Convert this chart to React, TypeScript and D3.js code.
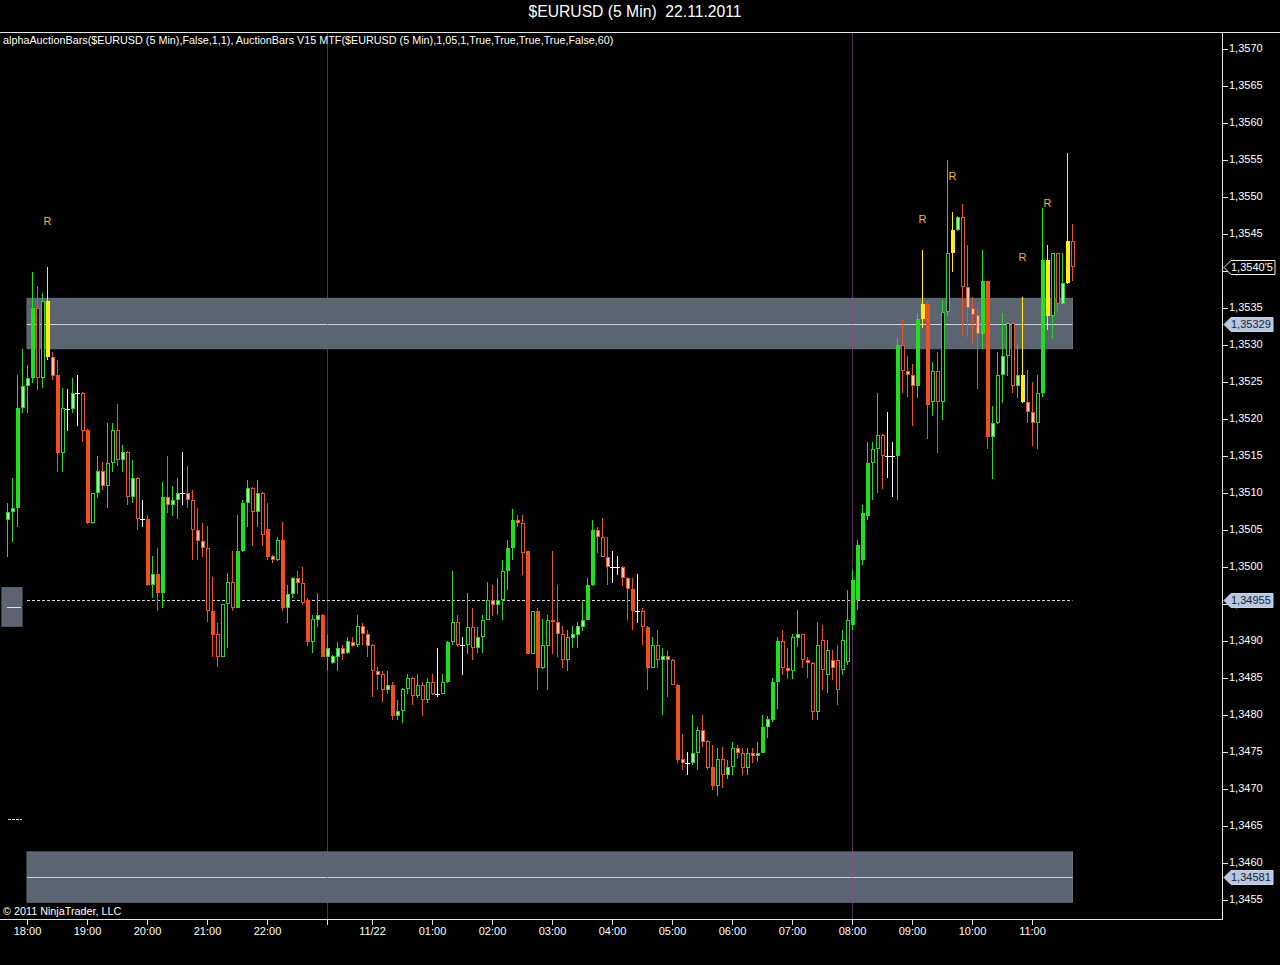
import React from 'react';
import * as d3 from 'd3';

// ---- data (EURUSD 5 min bars, 21.11 17:40 .. 22.11 11:25) ----
const opens = [
1.35064,1.35075,1.3508,1.35215,1.35244,1.35255,1.3535,1.35255,1.35359,1.35284,
1.35259,1.35154,1.35214,1.35214,1.35235,1.35235,1.35185,1.35059,1.351,1.3513,
1.35109,1.35141,1.35185,1.35144,1.35156,1.35094,1.3512,1.35065,1.35065,1.34976,
1.34991,1.34965,1.35095,1.35084,1.3509,1.351,1.351,1.35091,1.3505,1.35035,
1.35026,1.3494,1.34909,1.34879,1.3495,1.3498,1.34945,1.35021,1.35086,1.35107,
1.35075,1.351,1.35051,1.35015,1.35009,1.35036,1.34944,1.34964,1.34985,1.34979,
1.34955,1.34899,1.34928,1.34935,1.34879,1.3487,1.34879,1.3489,1.34884,1.34899,
1.34895,1.3492,1.34909,1.34895,1.34859,1.34855,1.34834,1.34841,1.34799,1.34806,
1.34835,1.3485,1.34825,1.34841,1.3482,1.34845,1.34829,1.34829,1.34844,1.34899,
1.34925,1.34895,1.34895,1.34919,1.3489,1.34906,1.34929,1.34955,1.34949,1.34955,
1.34994,1.35025,1.35064,1.35059,1.35021,1.34883,1.3494,1.34863,1.34893,1.34929,
1.34925,1.34909,1.34875,1.34904,1.34908,1.34919,1.34929,1.34976,1.3505,1.3504,
1.35014,1.35,1.35,1.35,1.34985,1.3497,1.3494,1.34941,1.34919,1.34864,
1.34895,1.34875,1.3488,1.34875,1.34841,1.3474,1.34735,1.34735,1.34749,1.3478,
1.34765,1.3473,1.34704,1.3474,1.34719,1.3473,1.34755,1.34749,1.34728,1.34749,
1.34744,1.34749,1.34784,1.34793,1.34844,1.349,1.34864,1.34859,1.34904,1.34909,
1.34875,1.3487,1.34804,1.34901,1.34854,1.34874,1.34874,1.34861,1.34872,1.34922,
1.34955,1.35009,1.35069,1.3514,1.35159,1.35179,1.3515,1.3515,1.3515,1.353,
1.35265,1.35259,1.35244,1.35335,1.35355,1.35223,1.35265,1.35223,1.35344,1.35424,
1.35455,1.35473,1.35379,1.3535,1.35341,1.35315,1.35386,1.35175,1.35194,1.35259,
1.35285,1.3533,1.35244,1.35259,1.35223,1.35209,1.35194,1.35235,1.35415,1.35339,
1.35424,1.35356,1.35384,1.3544];

const highs = [
1.35086,1.3512,1.35259,1.35295,1.35273,1.35399,1.3538,1.3537,1.35406,1.35291,
1.3528,1.35242,1.35241,1.35256,1.35259,1.35236,1.35186,1.351,1.3515,1.35142,
1.35195,1.35195,1.3522,1.35165,1.35157,1.35145,1.35121,1.35091,1.3507,1.35015,
1.35026,1.35115,1.3515,1.35109,1.3512,1.35156,1.35136,1.35104,1.3508,1.35059,
1.35055,1.34987,1.34924,1.3495,1.34992,1.35021,1.3507,1.35091,1.35118,1.35108,
1.35118,1.35101,1.35086,1.35016,1.35041,1.35061,1.34976,1.34986,1.34994,1.35,
1.34958,1.34935,1.34965,1.34936,1.34908,1.34881,1.34899,1.34895,1.34906,1.34906,
1.34935,1.34924,1.34915,1.34896,1.34865,1.34859,1.34859,1.34845,1.3482,1.34836,
1.34855,1.34851,1.34855,1.34845,1.3485,1.34855,1.34891,1.34855,1.349,1.34995,
1.34935,1.34906,1.34965,1.34945,1.34919,1.34935,1.3498,1.34976,1.34985,1.35009,
1.35036,1.35079,1.3507,1.3507,1.35022,1.34941,1.34945,1.3493,1.34935,1.35021,
1.34976,1.3492,1.34915,1.3492,1.34926,1.34953,1.34985,1.35064,1.35054,1.35066,
1.35041,1.35021,1.35015,1.35001,1.34986,1.34985,1.34991,1.34944,1.3492,1.34906,
1.34915,1.3489,1.34886,1.34876,1.34842,1.34775,1.3475,1.348,1.34784,1.348,
1.34766,1.34759,1.34755,1.34757,1.34739,1.34764,1.34759,1.34755,1.34755,1.34755,
1.34764,1.348,1.34799,1.3485,1.34906,1.34915,1.3489,1.3491,1.34942,1.3491,
1.34879,1.34871,1.34926,1.34922,1.34901,1.34888,1.34895,1.34915,1.34969,1.34996,
1.35036,1.35084,1.35169,1.35169,1.35235,1.3518,1.3521,1.35169,1.35309,1.35334,
1.35285,1.35275,1.35343,1.35429,1.35361,1.35277,1.35291,1.35361,1.3555,1.3548,
1.35474,1.35491,1.35435,1.35365,1.35352,1.35429,1.35387,1.35217,1.35291,1.35343,
1.35331,1.35331,1.353,1.35365,1.35266,1.3525,1.35259,1.35485,1.35435,1.35425,
1.35425,1.35424,1.35559,1.35464];

const lows = [
1.35014,1.35034,1.35054,1.35208,1.35208,1.35249,1.35239,1.35242,1.3528,1.35253,
1.35129,1.35129,1.35184,1.35208,1.3519,1.35169,1.35058,1.35058,1.35093,1.35104,
1.3508,1.35129,1.35136,1.35129,1.35084,1.35086,1.3505,1.35054,1.34975,1.34958,
1.3494,1.34945,1.35073,1.35069,1.35065,1.35084,1.3508,1.35009,1.35009,1.35014,
1.34926,1.34879,1.34865,1.34878,1.34891,1.3494,1.34944,1.3502,1.35054,1.35028,
1.35054,1.35028,1.35009,1.35005,1.35008,1.3494,1.34925,1.34958,1.34964,1.34949,
1.34893,1.34884,1.34919,1.34878,1.34861,1.34869,1.34859,1.34874,1.34883,1.34892,
1.34892,1.34895,1.34879,1.34825,1.34834,1.34818,1.34829,1.34793,1.34793,1.34789,
1.34829,1.34814,1.34823,1.34798,1.34816,1.34827,1.34825,1.34828,1.34843,1.34895,
1.34892,1.34854,1.34883,1.34874,1.34884,1.34884,1.34928,1.34934,1.34935,1.34928,
1.34969,1.35009,1.35054,1.34989,1.34882,1.34882,1.34834,1.34862,1.34834,1.34883,
1.34879,1.34863,1.34859,1.3489,1.3489,1.34913,1.34928,1.34975,1.35019,1.35013,
1.34976,1.34979,1.34989,1.34974,1.34929,1.34915,1.34925,1.34895,1.34834,1.34863,
1.34863,1.348,1.34825,1.3484,1.34735,1.34726,1.34719,1.34732,1.34726,1.34757,
1.34726,1.34699,1.3469,1.34701,1.34714,1.34719,1.3474,1.34719,1.34719,1.34735,
1.34737,1.34748,1.34769,1.3479,1.34808,1.34854,1.34848,1.34848,1.34892,1.34864,
1.3485,1.34793,1.34793,1.34834,1.3483,1.34847,1.34814,1.34854,1.34868,1.34915,
1.34942,1.35003,1.35064,1.3509,1.351,1.35105,1.3512,1.35094,1.35091,1.35235,
1.3523,1.3519,1.35228,1.35323,1.35173,1.35204,1.35154,1.35199,1.35339,1.35399,
1.35454,1.35314,1.35311,1.35302,1.3524,1.35294,1.35159,1.35119,1.35193,1.35221,
1.35258,1.35235,1.35228,1.35222,1.35194,1.35164,1.35159,1.3523,1.3532,1.35308,
1.35345,1.35355,1.35383,1.35386];

const closes = [
1.35075,1.3508,1.35215,1.35245,1.35255,1.3535,1.35255,1.35359,1.35284,1.35258,
1.35154,1.35215,1.35214,1.35235,1.35235,1.35184,1.35059,1.351,1.3513,1.35109,
1.35141,1.35185,1.35144,1.35156,1.35094,1.3512,1.35065,1.35065,1.34976,1.34991,
1.34965,1.35095,1.35084,1.35091,1.351,1.351,1.35091,1.3505,1.35035,1.35026,
1.3494,1.34908,1.34879,1.3495,1.3498,1.34945,1.35021,1.35086,1.35107,1.35075,
1.351,1.35043,1.35014,1.35009,1.35036,1.34944,1.34964,1.34985,1.34979,1.34951,
1.34899,1.3493,1.34935,1.34879,1.3489,1.3488,1.3489,1.34883,1.349,1.34893,
1.3492,1.34909,1.34893,1.34859,1.34854,1.34834,1.34841,1.34798,1.34806,1.34835,
1.3485,1.34825,1.34841,1.3482,1.34845,1.34829,1.34829,1.34844,1.34899,1.34925,
1.34895,1.34895,1.34919,1.3489,1.34906,1.34929,1.34955,1.34949,1.34955,1.34995,
1.35025,1.35064,1.35059,1.35019,1.34883,1.3494,1.34863,1.34895,1.34929,1.34925,
1.34909,1.34875,1.34906,1.34909,1.3492,1.34929,1.34976,1.3505,1.3504,1.35014,
1.35,1.35,1.35,1.34985,1.3497,1.3494,1.3494,1.34919,1.34864,1.34895,
1.34875,1.3488,1.34875,1.34841,1.34739,1.34735,1.34735,1.34749,1.3478,1.34764,
1.34728,1.34704,1.3474,1.34719,1.3473,1.34755,1.34749,1.34728,1.34749,1.34744,
1.34749,1.34784,1.34794,1.34845,1.349,1.34864,1.34859,1.34906,1.34909,1.34875,
1.3487,1.34804,1.34895,1.34861,1.34888,1.34864,1.34834,1.34901,1.34928,1.34982,
1.3503,1.35073,1.35141,1.35159,1.35179,1.3515,1.3515,1.3515,1.353,1.35265,
1.35259,1.35244,1.35335,1.35355,1.35219,1.35265,1.35223,1.35344,1.35424,1.35455,
1.35473,1.35379,1.3535,1.35341,1.35315,1.35386,1.35175,1.35194,1.35259,1.35285,
1.3533,1.35244,1.35259,1.35223,1.35209,1.35194,1.35235,1.35415,1.35339,1.35424,
1.35356,1.35384,1.3544,1.35405];

// bar paint type: G solid up, g hollow up, l pale up, R solid down, r hollow down, p pale down, Y signal, W doji
const barTypes =
  "llGllGrgYp" + "RgWlWrRglp" + "ggrlrlrWRl" + "RGpllWprpp" + "rRrggrGGlr" +
  "lrRpgRllpr" + "RglRlllplp" + "gpprprlRlg" + "grgrgrWgGg" + "rWgrlggplg" +
  "GGprRgRggp" + "prglllGGpr" + "pWWppRWrRg" + "rlprRpWlgp" + "rRgrlgprgp" +
  "lGlGGrpglr" + "prgrgprggG" + "GGGggrWWGr" + "ppGYRgrggY" + "lrpppGRlgl" +
  "grlYppgGYg" + "rlYr";

const priceTickLabels = [
  '1,3455','1,3460','1,3465','1,3470','1,3475','1,3480','1,3485','1,3490','1,3495','1,3500',
  '1,3505','1,3510','1,3515','1,3520','1,3525','1,3530','1,3535','1,3540','1,3545','1,3550',
  '1,3555','1,3560','1,3565','1,3570'];
const timeTickBars = [4,16,28,40,52,64,73,85,97,109,121,133,145,157,169,181,193,205];
const timeTickLabels = ['18:00','19:00','20:00','21:00','22:00','','11/22','01:00','02:00','03:00',
  '04:00','05:00','06:00','07:00','08:00','09:00','10:00','11:00'];
const sessionBreakBars = [64, 169];
const signalBars = [8, 183, 189, 203, 208];
const signalPrices = [1.35466, 1.35469, 1.35527, 1.35418, 1.3549];
const zoneCenters = [1.35329, 1.34581];
const zoneHalfWidth = 0.00034;
const pivotPrice = 1.34955;
const lastPrice = 1.35405;
const markerPrices = [1.35329, 1.34955, 1.34581];
const markerLabels = ['1,35329', '1,34955', '1,34581'];
const sideBox = [1.34972, 1.3492, 1.34946];
const sideDash = 1.34659;

const W = 1280, H = 965;
const AX = 1222, BOT = 919, TOP = 32;
const FONT = '"Liberation Sans", Arial, sans-serif';

const x = d3.scaleLinear().domain([0, 213]).range([7.5, 1072.5]);
const y = d3.scaleLinear().domain([1.3455, 1.357]).range([900, 49]);
const priceTicks = priceTickLabels.map((s) => +s.replace(',', '.'));

const UP = '#2fd02f', UPS = '#1fe01f', UPL = '#a4f2a4';
const DN = '#e2582c', DNS = '#f0501c', DNL = '#f8c8b6';
const YEL = '#ffec14';

function Candle({ i }: { i: number }) {
  const t = barTypes[i];
  const o = opens[i], c = closes[i];
  const xi = x(i);
  const yH = y(highs[i]), yL = y(lows[i]);
  const yT = Math.round(y(Math.max(o, c))), yB = Math.round(y(Math.min(o, c)));
  const h = Math.max(1, yB - yT);
  if (t === 'W') {
    return (
      <g>
        <line x1={xi} x2={xi} y1={yH} y2={yL} stroke="#ffffff" />
        <line x1={xi - 2.5} x2={xi + 2.5} y1={Math.round(y(c)) + 0.5} y2={Math.round(y(c)) + 0.5} stroke="#ffffff" />
      </g>
    );
  }
  let wick = UP, fill = UPS, stroke = 'none', solid = true;
  if (t === 'G') { wick = UPS; fill = UPS; }
  else if (t === 'g') { wick = UP; fill = '#000'; stroke = UP; solid = false; }
  else if (t === 'l') { wick = UP; fill = UPL; stroke = UP; solid = false; }
  else if (t === 'R') { wick = DNS; fill = DNS; }
  else if (t === 'r') { wick = DN; fill = '#000'; stroke = DN; solid = false; }
  else if (t === 'p') { wick = DN; fill = DNL; stroke = DN; solid = false; }
  else if (t === 'Y') { wick = YEL; fill = YEL; }
  return (
    <g>
      <line x1={xi} x2={xi} y1={yH} y2={yL} stroke={wick} />
      {solid ? (
        <rect x={xi - 1.5} y={yT} width={4} height={h} fill={fill} />
      ) : (
        <rect x={xi - 1} y={yT + 0.5} width={3} height={Math.max(1, h - 1)} fill={fill} stroke={stroke} />
      )}
    </g>
  );
}

export default function App() {
  const x0 = x(4) - 0.5, x1 = x(213);
  return (
    <svg width={W} height={H} style={{ position: 'absolute', left: 0, top: 0, background: '#000' }}
      fontFamily={FONT}>
      <rect x={0} y={0} width={W} height={H} fill="#000" />
      <text x={635} y={13} fill="#fff" fontSize={15.7} textAnchor="middle" dominantBaseline="middle"
        style={{ whiteSpace: 'pre' }}>{'$EURUSD (5 Min)  22.11.2011'}</text>
      <line x1={0} x2={W} y1={TOP + 0.5} y2={TOP + 0.5} stroke="#e8e8e8" />

      {/* zones */}
      {zoneCenters.map((zc, k) => (
        <g key={'z' + k}>
          <rect x={x0} y={y(zc + zoneHalfWidth)} width={x1 - x0} height={y(zc - zoneHalfWidth) - y(zc + zoneHalfWidth)}
            fill="#5b6572" stroke="#66707e" />
          <line x1={x0} x2={x1} y1={Math.round(y(zc)) + 0.5} y2={Math.round(y(zc)) + 0.5} stroke="#c9d2e2" />
        </g>
      ))}

      {/* session breaks */}
      {sessionBreakBars.map((b) => (
        <line key={'s' + b} x1={x(b)} x2={x(b)} y1={TOP + 1} y2={BOT} stroke="#8a4f96" strokeOpacity={0.6} />
      ))}

      {/* pivot dashed line */}
      <line x1={x0} x2={x1} y1={Math.round(y(pivotPrice)) + 0.5} y2={Math.round(y(pivotPrice)) + 0.5}
        stroke="#d8d8d8" strokeDasharray="3,2" />

      {/* side box */}
      <rect x={2} y={y(sideBox[0])} width={20} height={y(sideBox[1]) - y(sideBox[0])} fill="#5b6572" stroke="#66707e" />
      <line x1={7} x2={21} y1={Math.round(y(sideBox[2])) + 0.5} y2={Math.round(y(sideBox[2])) + 0.5} stroke="#e0e6f0" />
      <line x1={8} x2={22} y1={Math.round(y(sideDash)) + 0.5} y2={Math.round(y(sideDash)) + 0.5} stroke="#d8d8d8" strokeDasharray="3,1" />

      {/* candles */}
      <g shapeRendering="crispEdges">
        {opens.map((_, i) => <Candle key={i} i={i} />)}
      </g>

      {/* signal labels */}
      {signalBars.map((b, k) => (
        <text key={'r' + k} x={x(b)} y={y(signalPrices[k])} fill="#e9b934" fontSize={11}
          textAnchor="middle" dominantBaseline="middle">R</text>
      ))}

      <text x={3} y={41} fill="#fff" fontSize={10.8} dominantBaseline="middle">
        alphaAuctionBars($EURUSD (5 Min),False,1,1), AuctionBars V15 MTF($EURUSD (5 Min),1,05,1,True,True,True,True,False,60)
      </text>
      <text x={3} y={912} fill="#fff" fontSize={10.8} dominantBaseline="middle">© 2011 NinjaTrader, LLC</text>

      {/* axes */}
      <line x1={0} x2={AX + 0.5} y1={BOT + 0.5} y2={BOT + 0.5} stroke="#e8e8e8" />
      <line x1={AX + 0.5} x2={AX + 0.5} y1={TOP} y2={BOT + 1} stroke="#e8e8e8" />
      {priceTicks.map((p, k) => (
        <g key={'pt' + k}>
          <line x1={AX} x2={AX + 6} y1={Math.round(y(p)) + 0.5} y2={Math.round(y(p)) + 0.5} stroke="#e8e8e8" />
          <text x={AX + 7} y={y(p)} fill="#fff" fontSize={11} dominantBaseline="middle">{priceTickLabels[k]}</text>
        </g>
      ))}
      {timeTickBars.map((b, k) => (
        <g key={'tt' + k}>
          <line x1={x(b)} x2={x(b)} y1={BOT} y2={BOT + 6} stroke="#e8e8e8" />
          <text x={x(b)} y={932} fill="#fff" fontSize={11} textAnchor="middle" dominantBaseline="middle">{timeTickLabels[k]}</text>
        </g>
      ))}

      {/* price markers */}
      {markerPrices.map((p, k) => {
        const yc = Math.round(y(p)) + 0.5;
        return (
          <g key={'m' + k}>
            <path d={`M${AX + 2},${yc} L${AX + 9},${yc - 7} L${AX + 51},${yc - 7} L${AX + 51},${yc + 7} L${AX + 9},${yc + 7} Z`}
              fill="#b8c8de" stroke="#c8d4e6" />
            <text x={AX + 9} y={yc + 0.5} fill="#1a2438" fontSize={11} dominantBaseline="middle">{markerLabels[k]}</text>
          </g>
        );
      })}
      {(() => {
        const yc = Math.round(y(lastPrice)) + 0.5;
        return (
          <g>
            <path d={`M${AX + 2},${yc} L${AX + 9},${yc - 7} L${AX + 53},${yc - 7} L${AX + 53},${yc + 7} L${AX + 9},${yc + 7} Z`}
              fill="#000" stroke="#f0f0f0" />
            <text x={AX + 9} y={yc + 0.5} fill="#fff" fontSize={11} dominantBaseline="middle">1,3540'5</text>
          </g>
        );
      })()}
    </svg>
  );
}
